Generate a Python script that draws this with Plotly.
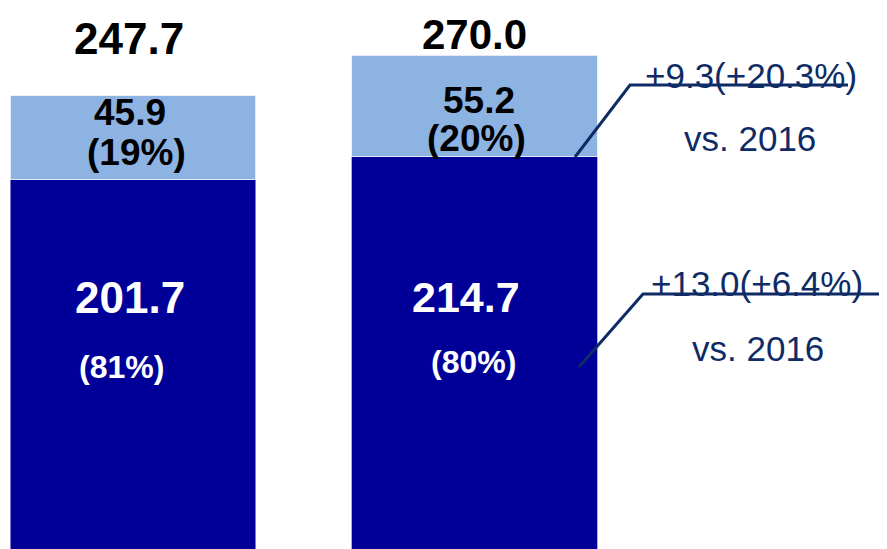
import plotly.graph_objects as go

# Data
years = ["2016", "2017"]
base_vals = [201.7, 214.7]      # dark segment
upper_vals = [45.9, 55.2]       # light segment
total_labels = ["247.7", "270.0"]
base_pct = ["(81%)", "(80%)"]
upper_pct = ["(19%)", "(20%)"]
diff_labels = ["+9.3(+20.3%)", "+13.0(+6.4%)"]
vs_labels = ["vs. 2016", "vs. 2016"]

DARK = "#000099"
LIGHT = "#8DB3E2"
NAVY = "#0F2B66"
BOLD_FONT = "Liberation Sans, Arial, sans-serif"
REG_FONT = "Liberation Sans, Arial, sans-serif"

W, H = 887, 549
OFF = 8  # page body margin


def scr(sx, sy):
    # screen pixel -> paper coords (plot area = whole figure minus bottom margin)
    return (sx - OFF) / W, (H - sy) / (H - OFF)


fig = go.Figure()
fig.add_trace(go.Bar(x=years, y=base_vals, width=0.72, marker_color=DARK,
                     marker_line=dict(color="rgba(150,150,230,0.8)", width=1)))
fig.add_trace(go.Bar(x=years, y=upper_vals, width=0.72, marker_color=LIGHT,
                     marker_line=dict(color="rgba(235,240,250,0.9)", width=1)))


def label(i, sy, text, size, color, dx=0):
    fig.add_annotation(x=i, xref="x", y=scr(0, sy)[1], yref="paper", text=text,
                       showarrow=False, xanchor="center", yanchor="middle", xshift=dx,
                       font=dict(family=BOLD_FONT, size=size, color=color))


# labels on the bars
label(0, 38, "<b>" + total_labels[0] + "</b>", 44, "black", -4)
label(1, 34, "<b>" + total_labels[1] + "</b>", 42, "black", 0)
label(0, 112, "<b>" + str(upper_vals[0]) + "</b>", 37, "black", -3)
label(1, 100, "<b>" + str(upper_vals[1]) + "</b>", 37, "black", 4)
label(0, 152, "<b>" + upper_pct[0] + "</b>", 37, "black", 3)
label(1, 139, "<b>" + upper_pct[1] + "</b>", 37, "black", 2)
label(0, 297, "<b>" + str(base_vals[0]) + "</b>", 44, "white", -3)
label(1, 297, "<b>" + str(base_vals[1]) + "</b>", 43, "white", -9)
label(0, 367, "<b>" + base_pct[0] + "</b>", 32, "white", -12)
label(1, 362, "<b>" + base_pct[1] + "</b>", 32, "white", -1)

# callouts
callouts = [
    [(575, 157), (630, 85), (848, 85)],
    [(579, 367), (643, 294), (895, 294)],
]
for pts in callouts:
    path = ""
    for j, (x, y) in enumerate(pts):
        xp, yp = scr(x, y)
        path += ("M" if j == 0 else " L") + " %f,%f" % (xp, yp)
    fig.add_shape(type="path", path=path, xref="paper", yref="paper",
                  line=dict(color=NAVY, width=3))

text_pos = [((751, 75), (750, 138)), ((757, 283), (758, 348))]
for i in range(2):
    for txt, (sx, sy) in zip([diff_labels[i], vs_labels[i]], text_pos[i]):
        xp, yp = scr(sx, sy)
        fig.add_annotation(x=xp, y=yp, xref="paper", yref="paper", text=txt, showarrow=False,
                           xanchor="center", yanchor="middle",
                           font=dict(family=REG_FONT, size=35, color=NAVY))

fig.update_layout(width=W, height=H, margin=dict(l=0, r=0, t=0, b=OFF),
                  barmode="stack", showlegend=False,
                  plot_bgcolor="white", paper_bgcolor="white")
# bar centres at screen x 133 and 474.5
fig.update_xaxes(visible=False, type="category", range=[-(133 - OFF) / 341.5, -(133 - OFF) / 341.5 + W / 341.5])
fig.update_yaxes(visible=False, range=[0, (H - OFF) / 1.83])

fig.write_html("out.html")
